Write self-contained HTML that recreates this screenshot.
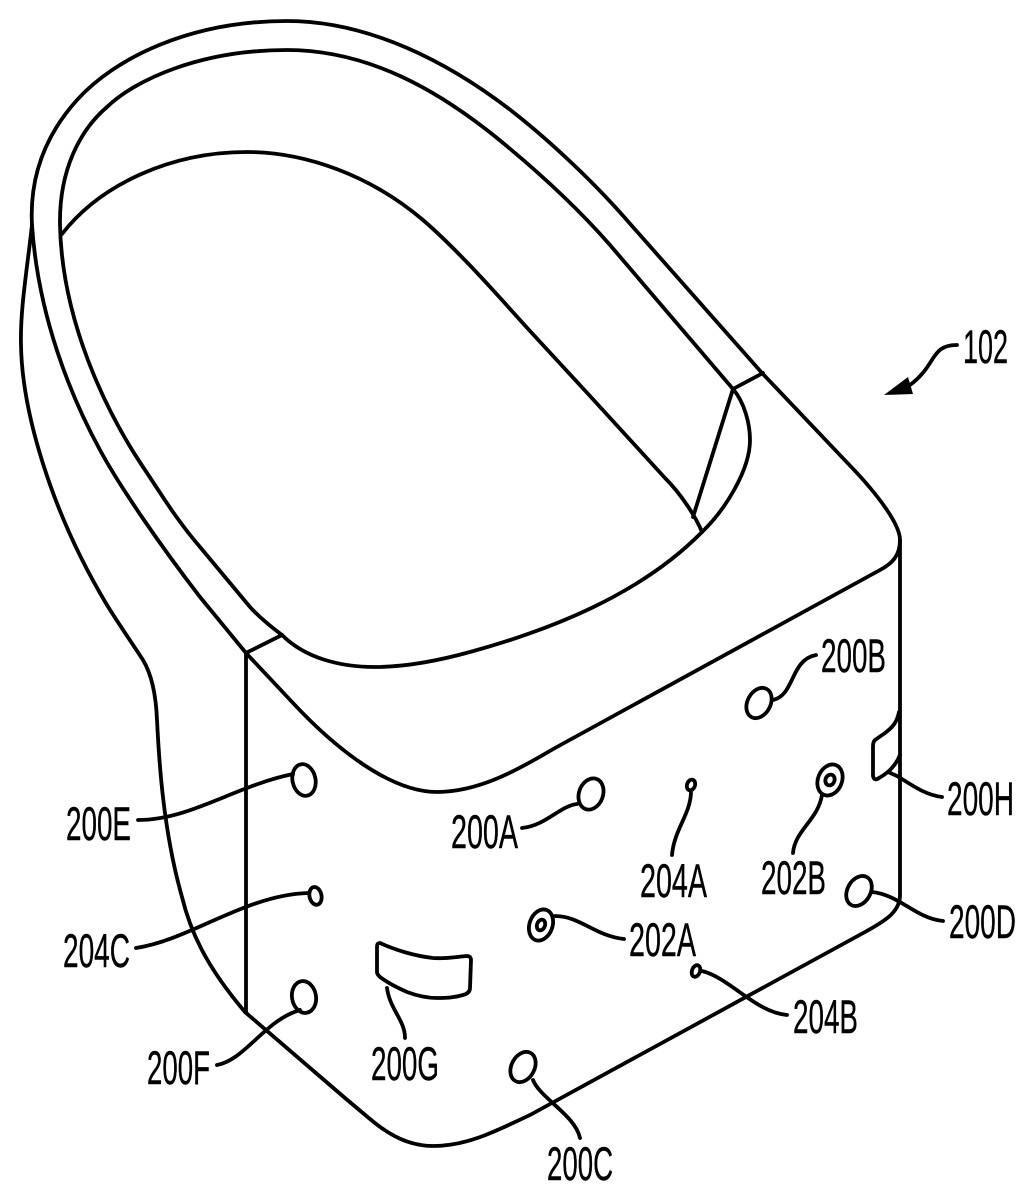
<!DOCTYPE html>
<html>
<head>
<meta charset="utf-8">
<style>
html,body{margin:0;padding:0;background:#fff;}
svg{display:block;}
text{font-family:"Liberation Sans",sans-serif;font-size:47px;fill:#000;stroke:#000;stroke-width:0.4;}
.l{fill:none;stroke:#000;stroke-width:3.8;stroke-linecap:round;stroke-linejoin:round;}
</style>
</head>
<body>
<svg width="1035" height="1200" viewBox="0 0 1035 1200" xmlns="http://www.w3.org/2000/svg">
<!-- outer rim -->
<path class="l" d="M246,653 L200,597 C160,545 120,487 100,450 C70,395 38,315 32,225 C29,170 50,130 77,100 C115,58 190,21 287,21 C370,21 450,63 513,112 C545,137 590,178 625,218 L762,373 L857,473 C880,498 900,525 900,540 C900,555 893,563 880,570 L555,748 C530,762 485,792 437,792 C390,792 335,748 293,703 L246,653"/>
<!-- inner rim -->
<path class="l" d="M282,635 C270,626 260,618 250,607 L200,547 C175,518 160,492 143,467 C105,410 62,320 60,225 C59,170 80,130 107,107 C135,80 200,50 287,50 C370,50 440,92 497,138 C535,169 575,205 610,245 L733,389 C745,403 750,425 750,440 C750,470 725,510 702,532 C640,595 550,630 470,652 C430,663 400,667 375,667 C340,667 305,658 282,635"/>
<!-- inner lower -->
<path class="l" d="M62,234 C100,185 170,152 247,152 C305,152 370,175 423,220 C460,252 500,298 530,331 L590,396 L665,478 C680,493 695,515 702,532"/>
<path class="l" d="M733,389 L693,517"/>
<path class="l" d="M733,389 L763,373"/>
<path class="l" d="M246,653 L282,635"/>
<!-- left outer and bottom -->
<path class="l" d="M32,225 C27,270 20,310 21,345 C22,410 50,510 107,605 C118,623 132,643 143,660 C152,675 156,695 157,720 C159,760 163,830 182,897 C190,930 205,965 245,1012 L345,1098 L370,1119 C390,1136 410,1146 433,1146 C465,1146 490,1134 530,1115 L865,932 C885,921 900,912 900,895 L900,540"/>
<path class="l" d="M246,653 L246,1012"/>
<!-- 200H -->
<path class="l" d="M899,712 C897,722 893,727 885,733 L875,740 C873,742 873,744 873,746 L873,776 C874,780 876,780 879,778 C888,773 896,765 900,755"/>
<path class="l" d="M888,772 L897,776 C912,785 925,795 942,797"/>
<!-- 200G -->
<path class="l" d="M380,943 C395,950 415,956 433,958 C445,959 455,957 467,956 C470,956 471,958 471,960 L470,988 C470,992 467,994 463,995 C453,998 445,998 437,998 C425,998 415,995 407,992 C398,988 388,983 380,977 C378,975 377,974 377,972 L377,947 C377,944 378,943 380,943 Z"/>
<path class="l" d="M387,988 C390,1010 405,1020 405,1038"/>
<!-- ellipses -->
<ellipse class="l" cx="304" cy="780" rx="11.5" ry="16" transform="rotate(-12 304 780)"/>
<ellipse class="l" cx="315.500" cy="896" rx="6" ry="9" transform="rotate(-12 315 896)"/>
<ellipse class="l" cx="304" cy="997" rx="12" ry="16" transform="rotate(-10 304 997)"/>
<ellipse class="l" cx="591" cy="794" rx="12" ry="16" transform="rotate(20 591 794)"/>
<ellipse class="l" cx="691" cy="785" rx="4" ry="5.500" transform="rotate(20 691 785)"/>
<ellipse class="l" cx="541" cy="925" rx="11.5" ry="16" transform="rotate(20 541 925)"/>
<ellipse class="l" cx="541" cy="925" rx="4" ry="5.500" transform="rotate(20 541 925)"/>
<ellipse class="l" cx="696" cy="971" rx="4" ry="6" transform="rotate(20 696 971)"/>
<ellipse class="l" cx="523" cy="1067" rx="11.5" ry="16" transform="rotate(28 523 1067)"/>
<ellipse class="l" cx="759" cy="703" rx="11.5" ry="16" transform="rotate(28 759 703)"/>
<ellipse class="l" cx="830" cy="780" rx="12" ry="16" transform="rotate(22 830 780)"/>
<ellipse class="l" cx="830" cy="780" rx="4.500" ry="5.500" transform="rotate(22 830 780)"/>
<ellipse class="l" cx="859" cy="891" rx="11.5" ry="16" transform="rotate(30 859 891)"/>
<!-- leaders -->
<path class="l" d="M138,820 C190,820 235,786 293,774"/>
<path class="l" d="M136,948 C190,940 245,895 308,893"/>
<path class="l" d="M217,1065 C245,1060 265,1020 300,1010"/>
<path class="l" d="M522,828 C545,826 560,806 577,804"/>
<path class="l" d="M672,855 C674,830 690,815 691,793"/>
<path class="l" d="M555,916 C580,916 595,936 624,939"/>
<path class="l" d="M702,971 C730,978 755,1012 787,1015"/>
<path class="l" d="M533,1080 C540,1098 575,1115 580,1138"/>
<path class="l" d="M773,700 C795,695 790,660 816,655"/>
<path class="l" d="M822,795 C818,820 795,830 793,853"/>
<path class="l" d="M872,892 C900,895 915,918 943,921"/>
<path class="l" d="M957,345 C930,345 937,365 910,385"/>
<polygon points="884,395 908,377 913,394" fill="#000"/>
<!-- labels -->
<text x="963" y="363" textLength="45" lengthAdjust="spacingAndGlyphs">102</text>
<text x="821" y="672" textLength="65" lengthAdjust="spacingAndGlyphs">200B</text>
<text x="947" y="815" textLength="67" lengthAdjust="spacingAndGlyphs">200H</text>
<text x="761" y="894" textLength="65" lengthAdjust="spacingAndGlyphs">202B</text>
<text x="949" y="938" textLength="67" lengthAdjust="spacingAndGlyphs">200D</text>
<text x="451" y="848" textLength="67" lengthAdjust="spacingAndGlyphs">200A</text>
<text x="640" y="897" textLength="67" lengthAdjust="spacingAndGlyphs">204A</text>
<text x="629" y="956" textLength="67" lengthAdjust="spacingAndGlyphs">202A</text>
<text x="66" y="840" textLength="65" lengthAdjust="spacingAndGlyphs">200E</text>
<text x="63" y="967" textLength="67" lengthAdjust="spacingAndGlyphs">204C</text>
<text x="147" y="1084" textLength="63" lengthAdjust="spacingAndGlyphs">200F</text>
<text x="371" y="1080" textLength="68" lengthAdjust="spacingAndGlyphs">200G</text>
<text x="793" y="1033" textLength="65" lengthAdjust="spacingAndGlyphs">204B</text>
<text x="547" y="1180" textLength="66" lengthAdjust="spacingAndGlyphs">200C</text>
</svg>
</body>
</html>
